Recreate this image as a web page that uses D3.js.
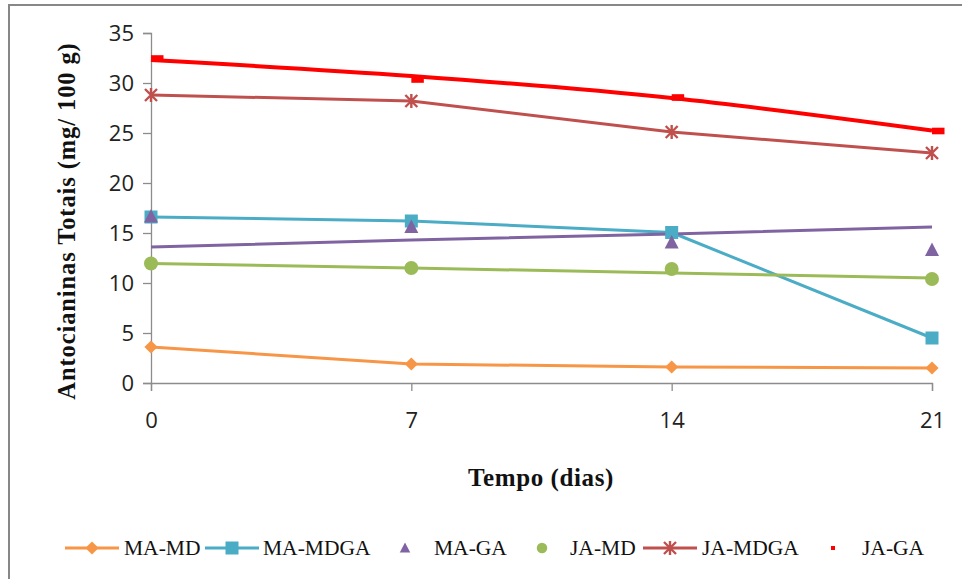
<!DOCTYPE html>
<html>
<head>
<meta charset="utf-8">
<script src="https://cdn.jsdelivr.net/npm/d3@7/dist/d3.min.js"></script>
<style>
  html, body { margin: 0; padding: 0; background: #fff; }
  svg { display: block; }
</style>
</head>
<body>
<svg id="chart" width="962" height="579"></svg>
<script>
// Storage days
const days = [0, 7, 14, 21];
const xTicks = [0, 7, 14, 21];
const yTicks = [0, 5, 10, 15, 20, 25, 30, 35];

// Total anthocyanins (mg/100 g) per treatment
const maMD   = [3.6, 1.9, 1.6, 1.5];
const maMDGA = [16.6, 16.2, 15.05, 4.5];
const maGA   = [16.65, 15.6, 14.05, 13.3];
const jaMD   = [11.95, 11.5, 11.4, 10.4];
const jaMDGA = [28.8, 28.2, 25.1, 23.0];
const jaGA   = [32.45, 30.35, 28.55, 25.2];

// Trend lines drawn for the marker-only series
const maGATrend = [13.6, 14.3, 14.9, 15.6];
const jaMDTrend = [11.95, 11.5, 11.0, 10.5];
const jaGATrend = [32.3, 30.7, 28.5, 25.25];

const legendNames = ["MA-MD", "MA-MDGA", "MA-GA", "JA-MD", "JA-MDGA", "JA-GA"];
const colors = {
  maMD: "#F79646", maMDGA: "#4BACC6", maGA: "#8064A2",
  jaMD: "#9BBB59", jaMDGA: "#C0504D", jaGA: "#FF0000"
};

const svg = d3.select("#chart");

// outer chart frame
svg.append("rect")
  .attr("x", 9).attr("y", 5).attr("width", 980).attr("height", 600)
  .attr("fill", "none").attr("stroke", "#878787").attr("stroke-width", 2);

const x = d3.scaleLinear().domain([0, 21]).range([151, 932]);
const y = d3.scaleLinear().domain([0, 35]).range([383, 33]);

const tickFont = "'Open Sans', 'Liberation Sans', sans-serif";
const serif = "'Liberation Serif', 'DejaVu Serif', serif";

// axes
const yAxis = svg.append("g").attr("transform", `translate(${x(0)},0)`)
  .call(d3.axisLeft(y).tickValues(yTicks).tickSize(8).tickPadding(9).tickFormat(d3.format("d")));
const xAxis = svg.append("g").attr("transform", `translate(0,${y(0)})`)
  .call(d3.axisBottom(x).tickValues(xTicks).tickSize(8).tickPadding(21).tickFormat(d3.format("d")));
[yAxis, xAxis].forEach(g => {
  g.select(".domain").attr("stroke", "#8c8c8c").attr("stroke-width", 1.3);
  g.selectAll(".tick line").attr("stroke", "#8c8c8c").attr("stroke-width", 1.3);
  g.selectAll(".tick text").attr("fill", "#222").style("font-family", tickFont).style("font-size", "22px");
});

// axis titles
svg.append("text")
  .attr("transform", `translate(75,221) rotate(-90)`)
  .attr("text-anchor", "middle")
  .style("font-family", serif).style("font-weight", "bold").style("font-size", "24.5px")
  .style("letter-spacing", "0.9px")
  .attr("fill", "#111")
  .text("Antocianinas Totais (mg/ 100 g)");
svg.append("text")
  .attr("x", 541).attr("y", 486)
  .attr("text-anchor", "middle")
  .style("font-family", serif).style("font-weight", "bold").style("font-size", "25px")
  .style("letter-spacing", "0.6px")
  .attr("fill", "#111")
  .text("Tempo (dias)");

const line = d3.line().x((d, i) => x(days[i])).y(d => y(d));
const smooth = d3.line().x((d, i) => x(days[i])).y(d => y(d)).curve(d3.curveMonotoneX);

function drawLine(values, color, width, gen) {
  svg.append("path").datum(values)
    .attr("d", gen || line)
    .attr("fill", "none").attr("stroke", color).attr("stroke-width", width)
    .attr("stroke-linejoin", "round").attr("stroke-linecap", "butt");
}

// marker painters
const markers = {
  diamond(g, cx, cy, c) {
    g.append("path").attr("d", d3.symbol(d3.symbolDiamond2, 110)())
      .attr("transform", `translate(${cx},${cy})`).attr("fill", c);
  },
  square(g, cx, cy, c) {
    g.append("rect").attr("x", cx - 6.5).attr("y", cy - 6.5).attr("width", 13).attr("height", 13).attr("fill", c);
  },
  triangle(g, cx, cy, c) {
    g.append("path").attr("d", `M${cx},${cy - 7.5}L${cx + 7},${cy + 6}L${cx - 7},${cy + 6}Z`).attr("fill", c);
  },
  circle(g, cx, cy, c) {
    g.append("circle").attr("cx", cx).attr("cy", cy).attr("r", 7).attr("fill", c);
  },
  star(g, cx, cy, c) {
    const r = 6;
    const p = `M${cx - r},${cy - r}L${cx + r},${cy + r}M${cx - r},${cy + r}L${cx + r},${cy - r}M${cx},${cy - r - 1}L${cx},${cy + r + 1}`;
    g.append("path").attr("d", p).attr("stroke", c).attr("stroke-width", 2.4).attr("fill", "none");
  },
  dash(g, cx, cy, c) {
    g.append("rect").attr("x", cx).attr("y", cy - 3.3).attr("width", 12.5).attr("height", 6.6).attr("fill", c);
  }
};

function drawMarkers(values, type, color) {
  const g = svg.append("g");
  values.forEach((v, i) => markers[type](g, x(days[i]), y(v), color));
}

// series
drawLine(maMD, colors.maMD, 3);
drawLine(maMDGA, colors.maMDGA, 3);
drawLine(maGATrend, colors.maGA, 3);
drawLine(jaMDTrend, colors.jaMD, 3);
drawLine(jaMDGA, colors.jaMDGA, 3);
drawLine(jaGATrend, colors.jaGA, 4, smooth);

drawMarkers(maMD, "diamond", colors.maMD);
drawMarkers(maMDGA, "square", colors.maMDGA);
drawMarkers(maGA, "triangle", colors.maGA);
drawMarkers(jaMD, "circle", colors.jaMD);
drawMarkers(jaMDGA, "star", colors.jaMDGA);
drawMarkers(jaGA, "dash", colors.jaGA);

// legend
const legendY = 548;
const legendItems = [
  { name: legendNames[0], color: colors.maMD, type: "diamond", line: true, x0: 65, tx: 124 },
  { name: legendNames[1], color: colors.maMDGA, type: "square", line: true, x0: 205, tx: 263 },
  { name: legendNames[2], color: colors.maGA, type: "triangle", line: false, x0: 378, tx: 434 },
  { name: legendNames[3], color: colors.jaMD, type: "circle", line: false, x0: 515, tx: 570 },
  { name: legendNames[4], color: colors.jaMDGA, type: "star", line: true, x0: 643, tx: 702 },
  { name: legendNames[5], color: colors.jaGA, type: "dash", line: false, x0: 806, tx: 862 }
];
const lg = svg.append("g");
legendItems.forEach(it => {
  const mid = it.x0 + 27;
  if (it.line) {
    lg.append("line").attr("x1", it.x0).attr("x2", it.x0 + 54)
      .attr("y1", legendY).attr("y2", legendY)
      .attr("stroke", it.color).attr("stroke-width", 3);
  }
  if (it.type === "dash") {
    lg.append("rect").attr("x", mid - 2).attr("y", legendY - 2).attr("width", 4).attr("height", 4).attr("fill", it.color);
  } else if (it.type === "triangle" || it.type === "circle") {
    const g = lg.append("g").attr("transform", `translate(${mid},${legendY}) scale(0.75) translate(${-mid},${-legendY})`);
    markers[it.type](g, mid, legendY, it.color);
  } else {
    markers[it.type](lg, mid, legendY, it.color);
  }
  lg.append("text").attr("x", it.tx).attr("y", legendY + 7)
    .style("font-family", serif).style("font-size", "21.5px").attr("fill", "#111")
    .text(it.name);
});
</script>
</body>
</html>
